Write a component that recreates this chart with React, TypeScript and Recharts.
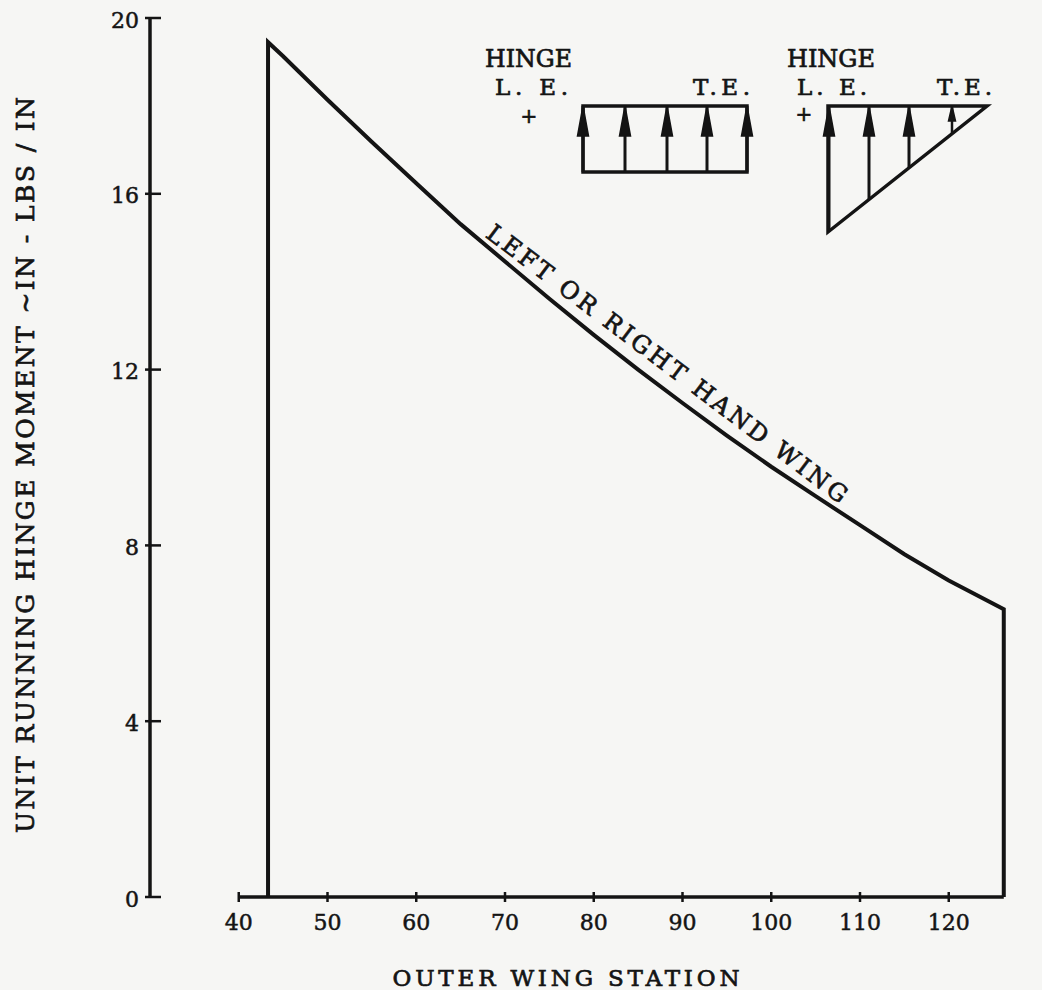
import React from "react";
import { LineChart, Line, XAxis, YAxis, ReferenceLine } from "recharts";

// outer wing station vs unit running hinge moment (in-lbs/in)
const stations = [43.3, 43.3, 45, 50, 55, 60, 65, 70, 75, 80, 85, 90, 95, 100, 105, 110, 115, 120, 126.2, 126.2];
const moments = [0, 19.45, 19.13, 18.14, 17.18, 16.24, 15.31, 14.46, 13.61, 12.79, 12.0, 11.24, 10.5, 9.79, 9.12, 8.46, 7.8, 7.2, 6.55, 0];

const xTicks = [40, 50, 60, 70, 80, 90, 100, 110, 120];
const yTicks = [0, 4, 8, 12, 16, 20];

const INK = "#141414";
const FONT = "'DejaVu Serif', 'Liberation Serif', serif";

const rows = stations.map((s, i) => ({ station: s, moment: moments[i] }));

function XTick({ x, y, payload }: any) {
  return (
    <g>
      <line x1={x} x2={x} y1={y - 5} y2={y + 5} stroke={INK} strokeWidth={2.5} />
      <text
        x={x}
        y={y + 33}
        textAnchor="middle"
        fontFamily={FONT}
        fontSize={22}
        fill={INK}
        stroke={INK}
        strokeWidth={0.5}
      >
        {payload.value}
      </text>
    </g>
  );
}

function YTick({ x, y, payload }: any) {
  return (
    <g>
      <line x1={x - 5} x2={x + 11} y1={y} y2={y} stroke={INK} strokeWidth={2.5} />
      <text
        x={x - 11}
        y={y + 2}
        textAnchor="end"
        dominantBaseline="central"
        fontFamily={FONT}
        fontSize={22}
        fill={INK}
        stroke={INK}
        strokeWidth={0.5}
      >
        {payload.value}
      </text>
    </g>
  );
}

// load sketches in the top right corner
function Arrow({ x, top, base, half }: { x: number; top: number; base: number; half: number }) {
  return <path d={`M${x},${top} L${x + half},${base} L${x - half},${base} Z`} fill={INK} stroke={INK} strokeWidth={1.5} />;
}

function Sketches() {
  const rectX = [583, 625, 667, 707, 747];
  const triLeft = 828;
  const triRight = 987;
  const triTop = 106;
  const triBottom = 232;
  const hyp = (x: number) => triBottom - ((x - triLeft) * (triBottom - triTop)) / (triRight - triLeft);
  const triX = [829, 869, 909];
  const txt = { fontFamily: FONT, fill: INK, stroke: INK, strokeWidth: 0.7 } as const;
  return (
    <svg width={1042} height={990} style={{ position: "absolute", left: 0, top: 0, pointerEvents: "none" }}>
      {/* uniform load */}
      <text x={485} y={67} fontSize={24} textLength={87} lengthAdjust="spacingAndGlyphs" {...txt}>HINGE</text>
      <text x={495} y={95} fontSize={23} textLength={73} lengthAdjust="spacing" {...txt}>L. E.</text>
      <text x={693} y={95} fontSize={23} textLength={57} lengthAdjust="spacing" {...txt}>T.E.</text>
      <text x={529} y={116} fontSize={20} textAnchor="middle" dominantBaseline="central" {...txt}>+</text>
      <rect x={583} y={106} width={164} height={66} fill="none" stroke={INK} strokeWidth={3.5} />
      {rectX.map((x) => (
        <g key={x}>
          <line x1={x} x2={x} y1={106} y2={172} stroke={INK} strokeWidth={3} />
          <Arrow x={x} top={106} base={136} half={5.5} />
        </g>
      ))}

      {/* triangular load */}
      <text x={787} y={67} fontSize={24} textLength={88} lengthAdjust="spacingAndGlyphs" {...txt}>HINGE</text>
      <text x={797} y={95} fontSize={23} textLength={70} lengthAdjust="spacing" {...txt}>L. E.</text>
      <text x={937} y={95} fontSize={23} textLength={55} lengthAdjust="spacing" {...txt}>T.E.</text>
      <text x={804} y={114} fontSize={20} textAnchor="middle" dominantBaseline="central" {...txt}>+</text>
      <path
        d={`M${triLeft},${triBottom} L${triLeft},${triTop} L${triRight},${triTop} Z`}
        fill="none"
        stroke={INK}
        strokeWidth={3.5}
        strokeLinejoin="miter"
      />
      {triX.map((x) => (
        <g key={x}>
          <line x1={x} x2={x} y1={triTop} y2={hyp(x)} stroke={INK} strokeWidth={3} />
          <Arrow x={x} top={triTop} base={136} half={5.5} />
        </g>
      ))}
      <line x1={952} x2={952} y1={triTop} y2={hyp(952)} stroke={INK} strokeWidth={2.5} />
      <Arrow x={952} top={triTop} base={121} half={3.5} />

      {/* curve label */}
      <text
        x={667}
        y={364}
        transform="rotate(37 667 364)"
        textAnchor="middle"
        dominantBaseline="central"
        fontSize={24}
        textLength={445}
        lengthAdjust="spacing"
        {...txt}
      >
        LEFT OR RIGHT HAND WING
      </text>

      {/* axis titles */}
      <text
        x={25}
        y={465}
        transform="rotate(-90 25 465)"
        textAnchor="middle"
        dominantBaseline="central"
        fontSize={25}
        textLength={736}
        lengthAdjust="spacing"
        {...txt}
      >
        UNIT RUNNING HINGE MOMENT ~IN - LBS / IN
      </text>
      <text x={566} y={986} textAnchor="middle" fontSize={23} textLength={347} lengthAdjust="spacing" {...txt}>
        OUTER WING STATION
      </text>
    </svg>
  );
}

export default function App() {
  return (
    <div style={{ position: "absolute", left: 0, top: 0, width: 1042, height: 990, background: "#f6f6f4" }}>
      <LineChart width={1042} height={990} data={rows} margin={{ top: 18, right: 4.5, bottom: 33, left: 90 }}>
        <XAxis
          dataKey="station"
          type="number"
          domain={[30, 130]}
          ticks={xTicks}
          axisLine={false}
          tickLine={false}
          tickSize={0}
          tickMargin={0}
          height={60}
          tick={<XTick />}
          allowDataOverflow
        />
        <YAxis
          type="number"
          domain={[0, 20]}
          ticks={yTicks}
          width={60}
          axisLine={{ stroke: INK, strokeWidth: 3.5 }}
          tickLine={false}
          tickSize={0}
          tickMargin={0}
          tick={<YTick />}
          allowDataOverflow
        />
        <ReferenceLine
          segment={[
            { x: 40, y: 0 },
            { x: 126.2, y: 0 },
          ]}
          stroke={INK}
          strokeWidth={3.5}
        />
        <Line
          dataKey="moment"
          type="linear"
          stroke={INK}
          strokeWidth={4}
          strokeLinejoin="miter"
          dot={false}
          activeDot={false}
          isAnimationActive={false}
        />
      </LineChart>
      <Sketches />
    </div>
  );
}
